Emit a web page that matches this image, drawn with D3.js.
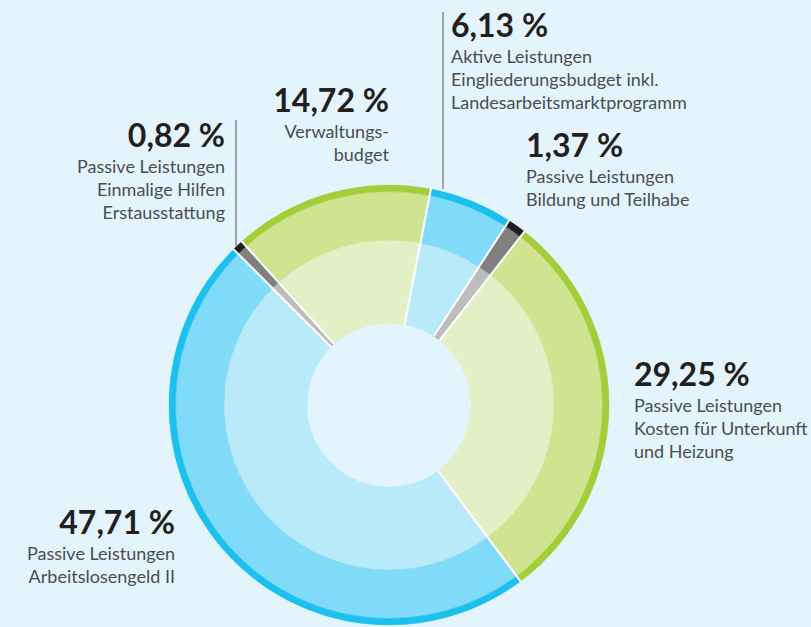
<!DOCTYPE html>
<html>
<head>
<meta charset="utf-8">
<script src="https://cdn.jsdelivr.net/npm/d3@7"></script>
<style>
  html, body { margin: 0; padding: 0; background: #e3f4fc; }
  svg { display: block; }
  .num { font-family: Lato, "Noto Sans", sans-serif; font-weight: 700; font-size: 32px; fill: #231f20; }
  .lbl { font-family: Lato, "Noto Sans", sans-serif; font-weight: 400; font-size: 18px; fill: #4d4d4f; }
</style>
</head>
<body>
<svg width="811" height="627"></svg>
<script>
// Anteile in Prozent, im Uhrzeigersinn ab Verwaltungsbudget
var categories = ["Verwaltungsbudget", "Aktive Leistungen", "Bildung und Teilhabe",
                  "Kosten für Unterkunft und Heizung", "Arbeitslosengeld II", "Einmalige Hilfen Erstausstattung"];
var values = [14.72, 6.13, 1.37, 29.25, 47.71, 0.82];
var groups = ["green", "blue", "gray", "green", "blue", "gray"];
var valueLabels = ["14,72 %", "6,13 %", "1,37 %", "29,25 %", "47,71 %", "0,82 %"];
var labelLines = [
  ["Verwaltungs-", "budget"],
  ["Aktive Leistungen", "Eingliederungsbudget inkl.", "Landesarbeitsmarktprogramm"],
  ["Passive Leistungen", "Bildung und Teilhabe"],
  ["Passive Leistungen", "Kosten für Unterkunft", "und Heizung"],
  ["Passive Leistungen", "Arbeitslosengeld II"],
  ["Passive Leistungen", "Einmalige Hilfen", "Erstausstattung"]
];

var svg = d3.select("svg"),
    width = +svg.attr("width"),
    height = +svg.attr("height");

var cx = 389, cy = 405,
    rHole = 82, rMid = 165, rRim = 213.5, rOuter = 220;

var colors = {
  green: {rim: "#a5cd39", mid: "#cfe391", inner: "#e3efc5"},
  blue:  {rim: "#1bc0ef", mid: "#7fdbf7", inner: "#b9eaf9"},
  gray:  {rim: "#231f20", mid: "#808080", inner: "#bdbdbd"}
};

var start = -42 * Math.PI / 180;
var pie = d3.pie().sort(null).value(function(d) { return d; })
    .startAngle(start).endAngle(start + 2 * Math.PI);
var arcs = pie(values);

var g = svg.append("g").attr("transform", "translate(" + cx + "," + cy + ")");

var rings = [
  {key: "inner", r0: rHole, r1: rMid},
  {key: "mid", r0: rMid, r1: rRim},
  {key: "rim", r0: rRim, r1: rOuter}
];

rings.forEach(function(ring) {
  var arc = d3.arc().innerRadius(ring.r0).outerRadius(ring.r1);
  g.append("g").selectAll("path")
    .data(arcs)
    .enter().append("path")
      .attr("d", arc)
      .attr("fill", function(d, i) { return colors[groups[i]][ring.key]; })
      .attr("stroke", function(d, i) { return colors[groups[i]][ring.key]; })
      .attr("stroke-width", 0.5);
});

// weisse Trennlinien zwischen den Segmenten
g.append("g").selectAll("line")
  .data(arcs)
  .enter().append("line")
    .attr("x1", function(d) { return rHole * Math.sin(d.startAngle); })
    .attr("y1", function(d) { return -rHole * Math.cos(d.startAngle); })
    .attr("x2", function(d) { return (rOuter + 1) * Math.sin(d.startAngle); })
    .attr("y2", function(d) { return -(rOuter + 1) * Math.cos(d.startAngle); })
    .attr("stroke", "#fff")
    .attr("stroke-width", 2);

// Beschriftungen
var labelPos = [
  {x: 389, y: 112, anchor: "end"},
  {x: 451, y: 37, anchor: "start"},
  {x: 526, y: 157, anchor: "start"},
  {x: 634, y: 386, anchor: "start"},
  {x: 175, y: 534, anchor: "end"},
  {x: 225, y: 147, anchor: "end"}
];

labelPos.forEach(function(p, i) {
  var t = svg.append("g").attr("text-anchor", p.anchor);
  t.append("text").attr("class", "num").attr("x", p.x).attr("y", p.y).text(valueLabels[i]);
  t.selectAll("text.lbl")
    .data(labelLines[i])
    .enter().append("text")
      .attr("class", "lbl")
      .attr("x", p.x)
      .attr("y", function(d, j) { return p.y + 26 + j * 23; })
      .text(function(d) { return d; });
});

// Hinweislinien
svg.append("line").attr("x1", 443).attr("y1", 12).attr("x2", 443).attr("y2", 189)
  .attr("stroke", "#8a8a8a").attr("stroke-width", 1.5);
svg.append("line").attr("x1", 236).attr("y1", 120).attr("x2", 236).attr("y2", 246)
  .attr("stroke", "#8a8a8a").attr("stroke-width", 1.5);
</script>
</body>
</html>
